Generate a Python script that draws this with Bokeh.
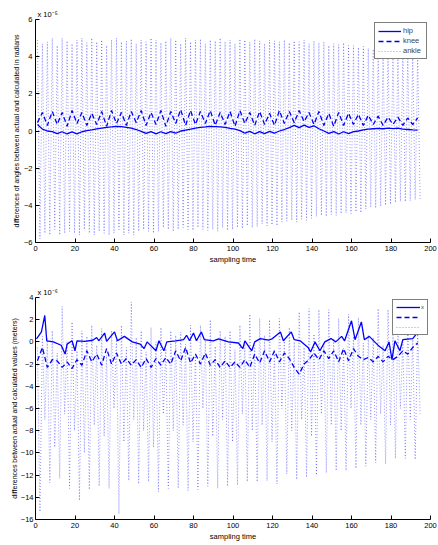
import numpy as np
from bokeh.plotting import figure
from bokeh.layouts import column
from bokeh.models import Legend, LegendItem, Title, FixedTicker, Range1d
from bokeh.embed import file_html
from bokeh.resources import INLINE

FONT = "Liberation Sans"

# ---------------- data ----------------
x_ticks = [0, 20, 40, 60, 80, 100, 120, 140, 160, 180, 200]
top_y_ticks = [-6, -4, -2, 0, 2, 4, 6]
bot_y_ticks = [-16, -14, -12, -10, -8, -6, -4, -2, 0, 2, 4]

sample_start = 1.0
sample_step = 2.5        # hip / knee / y samples
fine_step = 1.25         # ankle / z samples

# top chart (x 1e-5 rad)
hip = [0.35, 0.10, 0.00, -0.03, -0.14, -0.04, -0.16, -0.05, -0.15, -0.04,
       0.02, 0.06, 0.12, 0.16, 0.20, 0.22, 0.25, 0.23, 0.20, 0.15,
       0.08, -0.02, -0.13, -0.03, -0.15, -0.04, -0.14, -0.03, -0.12, 0.00,
       0.05, 0.10, 0.16, 0.20, 0.22, 0.25, 0.24, 0.22, 0.20, 0.14,
       0.10, 0.02, -0.12, -0.02, -0.15, -0.03, -0.14, -0.02, -0.12, 0.00,
       0.08, 0.18, 0.30, 0.18, 0.32, 0.20, 0.28, 0.12, 0.00, -0.13,
       -0.03, -0.16, -0.04, -0.14, -0.03, 0.00, 0.06, 0.10, 0.12, 0.14,
       0.12, 0.15, 0.13, 0.15, 0.10, 0.08, 0.06, 0.05]
knee = [0.45, 1.00, 0.30, 1.05, 0.35, 1.00, 0.25, 1.10, 0.40, 1.00,
        0.30, 0.95, 0.35, 1.05, 0.25, 1.10, 0.40, 1.00, 0.30, 1.05,
        0.45, 1.10, 0.30, 1.00, 0.35, 1.10, 0.25, 1.05, 0.40, 1.15,
        0.30, 1.10, 0.35, 1.05, 0.40, 1.10, 0.30, 1.00, 0.35, 1.05,
        0.25, 1.10, 0.40, 1.00, 0.30, 1.05, 0.35, 0.95, 0.30, 1.10,
        0.40, 1.05, 0.45, 1.10, 0.50, 1.00, 0.35, 1.05, 0.30, 0.95,
        0.25, 1.00, 0.30, 0.95, 0.35, 0.90, 0.30, 0.85, 0.35, 0.80,
        0.30, 0.75, 0.35, 0.75, 0.30, 0.70, 0.35, 0.70]
ankle_high = [4.90, 4.70, 4.80, 5.00, 4.60, 5.00, 4.85, 4.70, 4.90, 5.00,
              4.75, 5.00, 4.80, 4.90, 4.60, 4.90, 5.00, 4.80, 4.85, 4.95,
              4.70, 4.90, 4.80, 5.00, 4.90, 4.75, 4.85, 5.00, 4.90, 4.70,
              5.00, 4.80, 4.90, 4.95, 4.70, 4.90, 4.85, 5.00, 4.80, 4.90,
              4.70, 4.95, 4.90, 4.80, 4.95, 4.85, 4.70, 4.90, 4.85, 4.80,
              4.90, 4.75, 4.85, 4.80, 4.90, 4.70, 4.85, 4.75, 4.80, 4.60,
              4.70, 4.65, 4.75, 4.60, 4.60, 4.50, 4.55, 4.45, 4.40, 4.45,
              4.30, 4.35, 4.25, 4.30, 4.20, 4.20, 4.15, 4.10]
ankle_low = [-5.80, -5.50, -5.60, -5.30, -5.60, -5.50, -5.40, -5.50, -5.60, -5.30,
             -5.50, -5.60, -5.40, -5.50, -5.60, -5.50, -5.30, -5.60, -5.50, -5.60,
             -5.40, -5.30, -5.40, -5.50, -5.40, -5.20, -5.30, -5.40, -5.30, -5.20,
             -5.30, -5.35, -5.20, -5.30, -5.35, -5.30, -5.40, -5.20, -5.35, -5.30,
             -5.20, -5.25, -5.10, -5.20, -5.15, -5.00, -5.10, -5.05, -5.10, -4.90,
             -4.85, -4.80, -4.90, -4.75, -4.80, -4.70, -4.60, -4.55, -4.60, -4.50,
             -4.55, -4.45, -4.40, -4.45, -4.35, -4.40, -4.20, -4.10, -4.15, -4.05,
             -4.00, -3.95, -3.85, -3.80, -3.80, -3.75, -3.70, -3.65]

# bottom chart (x 1e-6 m)
t_x = [0.5, 3.0, 4.7, 5.7, 9.0, 13.0, 15.0, 16.0, 18.5, 20.0, 21.0, 25.0,
       29.0, 31.0, 32.0, 35.0, 36.0, 40.0, 41.5, 45.0, 49.0, 53.0, 55.0,
       56.5, 61.0, 62.5, 65.0, 66.5, 71.0, 75.0, 76.5, 78.0, 80.0, 81.5,
       84.0, 85.5, 90.0, 92.7, 97.7, 102.7, 105.0, 106.0, 109.5, 111.0,
       113.8, 118.0, 120.0, 124.0, 125.5, 129.5, 131.0, 134.0, 138.0,
       139.3, 141.5, 144.0, 146.5, 149.6, 152.0, 155.0, 156.5, 160.0,
       161.8, 165.0, 166.5, 169.0, 174.0, 177.0, 179.0, 180.5, 182.0,
       184.5, 186.0, 191.0, 193.7, 195.0]
x_err = [0.28, 0.9, 2.38, 0.1, 0.0, -0.3, -1.1, -0.2, 0.1, -0.8, 0.1, 0.05,
         0.15, 0.4, 0.1, 0.8, 0.05, 0.9, 0.1, 0.5, 0.0, -0.2, -0.6,
         0.0, -0.8, 0.1, -0.8, 0.0, 0.1, 0.2, 0.6, 0.1, 0.8, 0.1,
         0.9, 0.2, 0.1, 0.28, 0.0, -0.1, -0.6, 0.1, -0.8, 0.0,
         0.3, 0.15, 0.3, 0.9, 0.1, 0.9, 0.2, 0.1, -0.5,
         -0.9, 0.0, -0.8, 0.0, 0.3, 0.0, 0.5, 0.1, 1.9,
         0.2, 1.8, 0.2, 0.5, -0.4, -0.8, 0.0, -1.6, 0.1,
         -0.8, 0.2, 0.3, 0.9, 0.8]
y_err = [-1.7, -0.5, -2.3, -1.6, -1.7, -2.3, -1.8, -2.4, -1.6, -2.1,
         -0.8, -1.8, -1.1, -2.1, -0.6, -2.0, -1.0, -2.0, -1.5, -2.1,
         -1.6, -2.3, -1.5, -2.3, -1.5, -2.1, -1.4, -2.0, -0.8, -1.7,
         -0.5, -1.9, -1.1, -2.0, -1.0, -2.1, -1.6, -2.3, -1.7, -2.3,
         -1.8, -2.3, -1.6, -2.3, -1.1, -1.9, -0.8, -1.8, -0.8, -1.8,
         -1.0, -1.5, -2.3, -2.9, -2.0, -1.6, -1.0, -1.6, -0.8, -1.5,
         -0.8, -1.8, -0.6, -1.7, -0.6, -1.3, -1.6, -1.4, -1.8, -1.3,
         -1.8, -1.3, -1.6, -1.3, -0.8, -1.1, -0.5, -0.1]
z_up = [-0.5, 0.3, -1.0, 0.0, -0.8, 0.5, -0.3, -1.2, 0.2, -0.5,
        0.4, -0.9, 0.0, -0.6, 0.6, -0.2, -1.0, 0.3, -0.4, 0.5,
        -0.7, 0.1, -0.3, 0.6, -0.8, 0.2, 0.0, -0.5, 0.7, -0.2,
        0.3, -0.6, 0.5, -0.1, 0.4, -0.3, 0.6, 0.0, 0.2]
z_deep = [-15.3, -12.7, -12.3, -13.2, -14.3, -13.3, -13.0, -13.2, -15.5, -12.5,
          -12.8, -12.6, -13.5, -13.2, -13.2, -13.4, -13.3, -13.0, -13.2, -13.0,
          -12.9, -12.6, -12.6, -12.5, -12.8, -11.9, -12.4, -12.2, -12.0, -11.8,
          -11.6, -11.6, -11.4, -11.2, -10.9, -11.0, -10.5, -10.5, -10.6]
z_peak = [0.5, 1.0, 3.2, 1.8, 1.0, 1.5, 1.2, 1.0, 1.5, 3.6,
          1.0, 1.3, 1.3, 1.0, 0.9, 1.5, 1.5, 2.0, 1.0, 1.0,
          1.5, 2.5, 2.1, 2.0, 2.1, 1.3, 2.7, 3.0, 2.9, 2.9,
          2.1, 2.5, 2.2, 0.6, 3.0, 2.9, 2.1, 1.8, 1.1]
z_mid = [-7.0, -9.5, -6.5, -8.0, -10.0, -7.5, -8.5, -6.0, -9.0, -7.0,
         -8.0, -9.5, -6.5, -8.0, -7.5, -9.0, -6.0, -8.5, -7.0, -9.0,
         -6.5, -8.0, -7.5, -9.0, -6.0, -8.0, -7.0, -8.5, -6.5, -7.5,
         -8.0, -6.0, -7.5, -7.0, -6.5, -7.5, -6.0, -7.0, -6.5]

# sample order of the fine series
ankle = [v for pair in zip(ankle_high, ankle_low) for v in pair]
z_err = [v for quad in zip(z_up, z_deep, z_peak, z_mid) for v in quad]

t_grid = sample_start + sample_step * np.arange(len(hip))
t_fine = sample_start + fine_step * np.arange(len(ankle))
t_zfine = sample_start + fine_step * np.arange(len(z_err))

BLUE = "#0000ff"


def minus(v):
    return str(v).replace("-", "\u2212")


def make_fig(height, yr, yticks, b_top, b_bottom, ylabel, tick_standoff,
             lab_standoff, scale_text):
    p = figure(width=438, height=height, x_range=Range1d(0, 200),
               y_range=Range1d(*yr), output_backend="svg",
               toolbar_location=None, min_border_left=35,
               min_border_right=8, min_border_top=b_top,
               min_border_bottom=b_bottom)
    p.title = Title(text=scale_text, align="left", offset=2, standoff=1,
                    text_font=FONT, text_font_size="7.5px",
                    text_font_style="normal", text_color="black")
    p.outline_line_color = None
    p.grid.visible = False
    p.background_fill_color = "white"
    p.border_fill_color = "white"
    for ax, ticks in ((p.xaxis, x_ticks), (p.yaxis, yticks)):
        ax.ticker = FixedTicker(ticks=ticks)
        ax.major_label_overrides = {v: minus(v) for v in ticks}
        ax.minor_tick_line_color = None
        ax.major_tick_in = 4
        ax.major_tick_out = 0
        ax.axis_line_color = "black"
        ax.major_tick_line_color = "black"
        ax.major_label_text_font = FONT
        ax.major_label_text_font_size = "7.5px"
        ax.major_label_text_color = "black"
        ax.axis_label_text_font = FONT
        ax.axis_label_text_font_style = "normal"
        ax.axis_label_text_color = "black"
    p.xaxis.major_label_standoff = 3
    p.yaxis.major_label_standoff = tick_standoff
    p.xaxis.axis_label = "sampling time"
    p.xaxis.axis_label_text_font_size = "7.5px"
    p.xaxis.axis_label_standoff = 1
    p.yaxis.axis_label = ylabel
    p.yaxis.axis_label_text_font_size = "7px"
    p.yaxis.axis_label_standoff = lab_standoff
    return p


# ---------- top ----------
p1 = make_fig(272, (-6, 6), top_y_ticks, 19, 30,
              "differences of angles between actual and calculated in radians",
              3, 1, "x 10\u207b\u2075")
r_ank = p1.line(t_fine, ankle, line_color=BLUE, line_alpha=0.42,
                line_width=1, line_dash="1 2")
r_knee = p1.line(t_grid, knee, line_color=BLUE, line_width=1.3,
                 line_dash="5 3")
r_hip = p1.line(t_grid, hip, line_color=BLUE, line_width=1.3)
leg1 = Legend(items=[LegendItem(label="hip", renderers=[r_hip]),
                     LegendItem(label="knee", renderers=[r_knee]),
                     LegendItem(label="ankle", renderers=[r_ank])],
              location="top_right", margin=3, padding=3, spacing=1,
              glyph_width=23, glyph_height=8, label_height=8,
              label_standoff=2, label_text_font=FONT,
              label_text_font_size="7.5px", border_line_color="black",
              border_line_width=1.5, background_fill_alpha=1)
p1.add_layout(leg1)

# ---------- bottom ----------
p2 = make_fig(273, (-16, 4), bot_y_ticks, 25, 26,
              "differences between actual and calculated values (meters)",
              2, 0, "x 10\u207b\u2076")
r_z = p2.line(t_zfine, z_err, line_color=BLUE, line_alpha=0.42,
              line_width=1, line_dash="1 2")
r_y = p2.line(t_grid, y_err, line_color=BLUE, line_width=1.3,
              line_dash="5 3")
r_x = p2.line(t_x, x_err, line_color=BLUE, line_width=1.3)
leg2 = Legend(items=[LegendItem(label="x", renderers=[r_x]),
                     LegendItem(label=" ", renderers=[r_y]),
                     LegendItem(label=" ", renderers=[r_z])],
              location="top_right", margin=2, padding=3, spacing=2,
              glyph_width=24, glyph_height=8, label_height=8,
              label_width=3, label_standoff=1, label_text_font=FONT,
              label_text_font_size="6px", border_line_color="black",
              border_line_width=1.5, background_fill_alpha=1)
p2.add_layout(leg2)

layout = column(p1, p2, spacing=0)
open("out.html", "w").write(file_html(layout, INLINE))
